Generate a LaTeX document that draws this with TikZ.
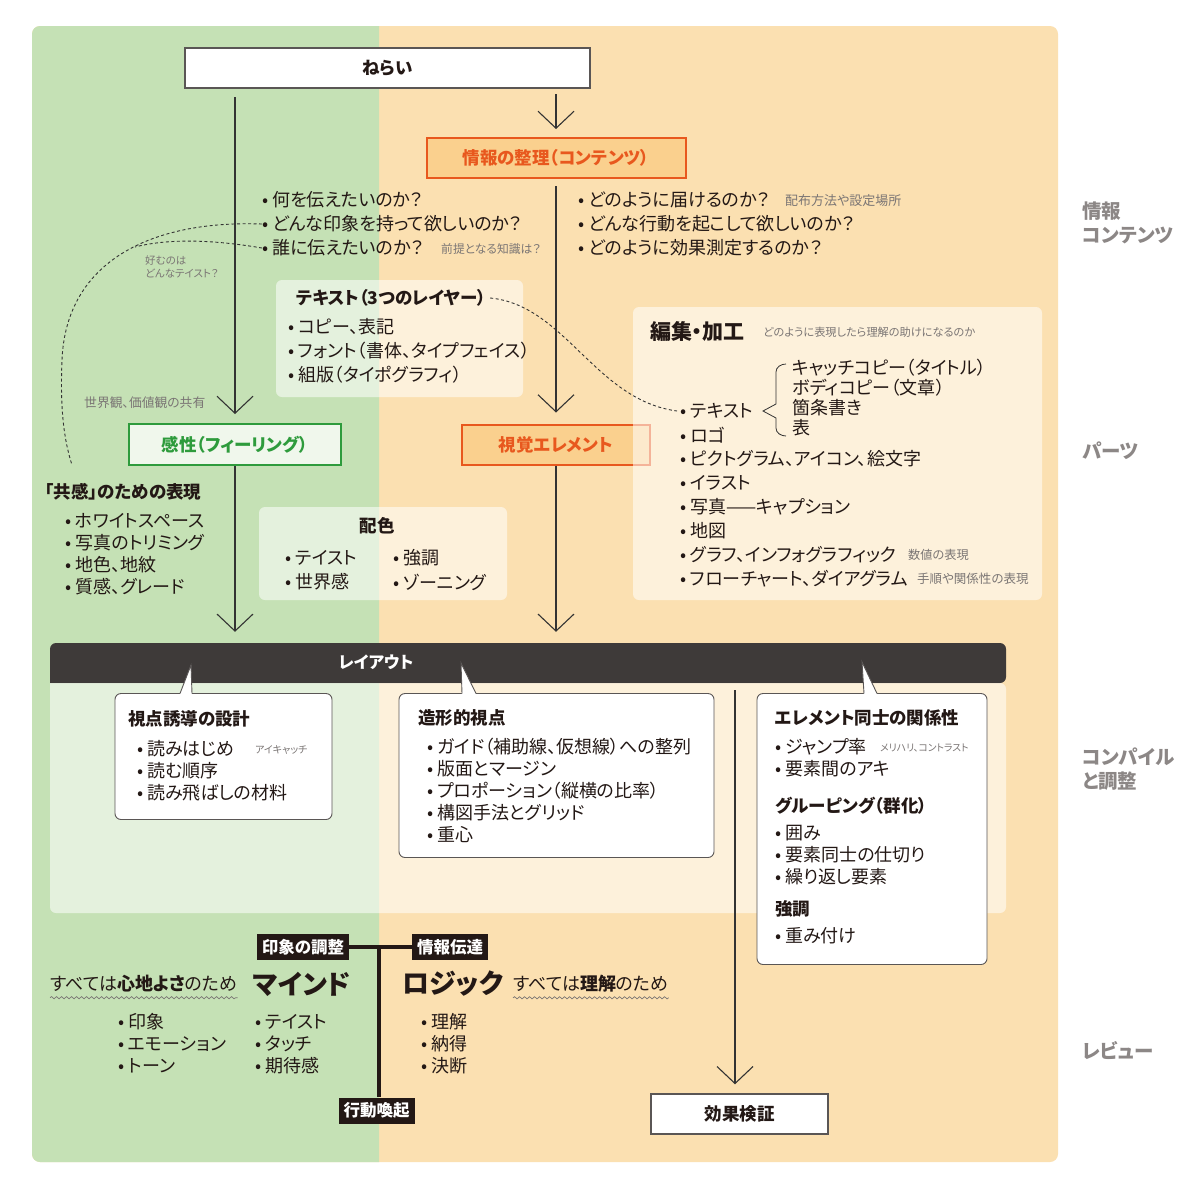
\documentclass[tikz,border=0pt]{standalone}
\usepackage{fontspec}
\setmainfont{Noto Sans CJK JP}[RawFeature=+palt]
\usetikzlibrary{arrows.meta,decorations.pathmorphing}
\definecolor{greenbg}{HTML}{C5E1B5}
\definecolor{peachbg}{HTML}{FBE0B1}
\definecolor{barc}{HTML}{3E3A39}
\definecolor{darkc}{HTML}{231815}
\definecolor{orangec}{HTML}{E8581E}
\definecolor{orangefill}{HTML}{FAD08E}
\definecolor{greenc}{HTML}{2E9B3C}
\definecolor{kanseifill}{HTML}{F0F7EC}
\definecolor{txtc}{HTML}{231815}
\definecolor{notec}{HTML}{7A7574}
\definecolor{sidec}{HTML}{8C8786}
\definecolor{linec}{HTML}{333333}
\definecolor{boxgray}{HTML}{5A5655}
\newcommand{\bulletmark}{•\hspace{4pt}}
\begin{document}
\begin{tikzpicture}[x=1pt,y=-1pt,
  every node/.style={inner sep=0pt},
  item/.style={anchor=west,font=\fontsize{18}{20}\selectfont,text=txtc},
  ttl/.style={anchor=west,font=\bfseries\fontsize{17.5}{19}\selectfont,text=txtc},
  note/.style={anchor=west,font=\fontsize{11.8}{13}\selectfont,text=notec},
  side/.style={anchor=west,align=left,font=\bfseries\fontsize{19.5}{24}\selectfont,text=sidec},
  arr/.style={draw=linec,line width=1.1pt,-{Straight Barb[length=17pt,width=36pt,line width=1.1pt]}},
  panel/.style={fill=white,fill opacity=0.55,rounded corners=6pt},
  callout/.style={draw=boxgray,fill=white,line width=0.9pt,rounded corners=6pt},
  obox/.style={draw=orangec,fill=orangefill,line width=2pt,minimum height=40pt,text=orangec,font=\bfseries\fontsize{17.5}{19}\selectfont},
  wbox/.style={draw=boxgray,fill=white,line width=2pt,minimum height=40pt,text=txtc,font=\bfseries\fontsize{17.5}{19}\selectfont},
  darklab/.style={fill=darkc,text=white,font=\bfseries\fontsize{16.5}{18}\selectfont,inner xsep=5pt,minimum height=26pt},
  dashc/.style={draw=linec,line width=0.9pt,dash pattern=on 3pt off 2.5pt},
  wavy/.style={draw=notec,line width=0.7pt,decorate,decoration={snake,amplitude=1.1pt,segment length=5pt}},
]
\useasboundingbox (0,0) rectangle (1198,1200);
% background
\fill[white] (0,0) rectangle (1198,1200);
\fill[peachbg,rounded corners=8pt] (32,26) rectangle (1058,1162);
\begin{scope}
\clip (0,0) rectangle (379,1200);
\fill[greenbg,rounded corners=8pt] (32,26) rectangle (1058,1162);
\end{scope}

% side labels
\node[side] (s1) at (1082,223) {情報\\コンテンツ};
\node[side] (s2) at (1082,451) {パーツ};
\node[side] (s3) at (1082,769) {コンパイル\\と調整};
\node[side] (s4) at (1082,1051) {レビュー};

% main boxes
\node[wbox,minimum width=405pt] (nerai) at (387.5,68) {ねらい};
\node[obox,minimum width=259pt] (joho) at (556,158) {情報の整理（コンテンツ）};
\node[obox,minimum width=188pt] (shikaku) at (556,444.5) {視覚エレメント};
\node[draw=greenc,fill=kanseifill,line width=2pt,minimum width=212pt,minimum height=41pt,text=greenc,font=\bfseries\fontsize{17.5}{19}\selectfont] (kansei) at (235,444.5) {感性（フィーリング）};
\node[wbox,line width=1.5pt,minimum width=177pt] (kouka) at (739.5,1114) {効果検証};

% questions
\node[item] (qL1) at (262,200) {\bulletmark 何を伝えたいのか？};
\node[item] (qL2) at (262,224) {\bulletmark どんな印象を持って欲しいのか？};
\node[item] (qL3) at (262,248) {\bulletmark 誰に伝えたいのか？};
\node[note] (nL3) at (441,249) {前提となる知識は？};
\node[item] (qR1) at (578,200) {\bulletmark どのように届けるのか？};
\node[note,font=\fontsize{13}{14}\selectfont] (nR1) at (785,201) {配布方法や設定場所};
\node[item] (qR2) at (578,224) {\bulletmark どんな行動を起こして欲しいのか？};
\node[item] (qR3) at (578,248) {\bulletmark どのように効果測定するのか？};

% notes on the left
\node[note,align=left,anchor=north west,font=\fontsize{10.5}{13}\selectfont] (nTaste) at (145,255) {好むのは\\どんなテイスト？};
\node[note,font=\fontsize{12.8}{14}\selectfont] (nWorld) at (84,403) {世界観、価値観の共有};

% text panel
\node[panel,minimum width=247pt,minimum height=117pt] (texbox) at (399.5,338.5) {};
\node[ttl] (texT) at (296,298) {テキスト（3つのレイヤー）};
\node[item] (tx1) at (288,327) {\bulletmark コピー、表記};
\node[item] (tx2) at (288,351) {\bulletmark フォント（書体、タイプフェイス）};
\node[item] (tx3) at (288,375) {\bulletmark 組版（タイポグラフィ）};

% edit panel
\node[panel,minimum width=409pt,minimum height=293pt] (henbox) at (837.5,453.5) {};
\node[anchor=west,text=txtc,font=\bfseries\fontsize{21}{23}\selectfont] (henT) at (650,332) {編集・加工};
\node[note,font=\fontsize{11.2}{12}\selectfont] (henN) at (763,332) {どのように表現したら理解の助けになるのか};
\node[item] (hen1) at (680,411) {\bulletmark テキスト};
\node[item] (hen2) at (680,435) {\bulletmark ロゴ};
\node[item] (hen3) at (680,459) {\bulletmark ピクトグラム、アイコン、絵文字};
\node[item] (hen4) at (680,483) {\bulletmark イラスト};
\node[item] (hen5) at (680,507) {\bulletmark 写真——キャプション};
\node[item] (hen6) at (680,531) {\bulletmark 地図};
\node[item] (hen7) at (680,555) {\bulletmark グラフ、インフォグラフィック};
\node[note,font=\fontsize{12.2}{13}\selectfont] (hen7n) at (908,555) {数値の表現};
\node[item] (hen8) at (680,579) {\bulletmark フローチャート、ダイアグラム};
\node[note,font=\fontsize{12.5}{13}\selectfont] (hen8n) at (917,579) {手順や関係性の表現};
\draw[linec,line width=0.8pt] (786,364) to[out=180,in=90] (776,372) -- (776,404) -- (763,411) -- (776,418) -- (776,428) to[out=-90,in=180] (786,436);
\node[item] (br1) at (792,368) {キャッチコピー（タイトル）};
\node[item] (br2) at (792,388) {ボディコピー（文章）};
\node[item] (br3) at (792,408) {箇条書き};
\node[item] (br4) at (792,428) {表};

% kyokan
\node[ttl] (kyokan) at (45,492) {「共感」のための表現};
\node[item] (ky1) at (65,521) {\bulletmark ホワイトスペース};
\node[item] (ky2) at (65,543) {\bulletmark 写真のトリミング};
\node[item] (ky3) at (65,565) {\bulletmark 地色、地紋};
\node[item] (ky4) at (65,587) {\bulletmark 質感、グレード};

% haishoku panel
\node[panel,minimum width=248pt,minimum height=93pt] (haibox) at (383,553.5) {};
\node[text=txtc,font=\bfseries\fontsize{17.5}{19}\selectfont] (haiT) at (377,526) {配色};
\node[item] (hai1) at (285,558) {\bulletmark テイスト};
\node[item] (hai2) at (285,582) {\bulletmark 世界感};
\node[item] (hai3) at (393,558) {\bulletmark 強調};
\node[item] (hai4) at (393,582) {\bulletmark ゾーニング};

% layout bar and panel
\fill[barc] (50,683) [rounded corners=6pt] -- (50,643) -- (1006,643) -- (1006,683) [sharp corners] -- cycle;
\node[minimum width=956pt,minimum height=40pt] (layout) at (528,663) {};
\node[text=white,font=\bfseries\fontsize{16.5}{18}\selectfont] (layoutT) at (376,662) {レイアウト};
\fill[white,fill opacity=0.55] (50,683) [rounded corners=6pt] -- (50,913) -- (1006,913) -- (1006,683) [sharp corners] -- cycle;

% callouts
\node[callout,minimum width=217pt,minimum height=126pt] (c1) at (223.5,756.5) {};
\fill[white] (180,694) -- (191,665) -- (192,694) -- cycle;
\draw[boxgray,line width=0.9pt] (180,693.5) -- (191,665) -- (192,693.5);
\node[ttl] (c1T) at (128,719) {視点誘導の設計};
\node[item] (c1a) at (137,749) {\bulletmark 読みはじめ};
\node[note,font=\fontsize{10}{11}\selectfont] (c1n) at (255,750) {アイキャッチ};
\node[item] (c1b) at (137,771) {\bulletmark 読む順序};
\node[item] (c1c) at (137,793) {\bulletmark 読み飛ばしの材料};

\node[callout,minimum width=315pt,minimum height=164pt] (c2) at (556.5,775.5) {};
\fill[white] (462,694) -- (461,663) -- (476,694) -- cycle;
\draw[boxgray,line width=0.9pt] (462,693.5) -- (461,663) -- (476,693.5);
\node[ttl] (c2T) at (418,718) {造形的視点};
\node[item] (c2a) at (427,747) {\bulletmark ガイド（補助線、仮想線）への整列};
\node[item] (c2b) at (427,769) {\bulletmark 版面とマージン};
\node[item] (c2c) at (427,791) {\bulletmark プロポーション（縦横の比率）};
\node[item] (c2d) at (427,813) {\bulletmark 構図手法とグリッド};
\node[item] (c2e) at (427,835) {\bulletmark 重心};

\node[callout,minimum width=230pt,minimum height=271pt] (c3) at (872,829) {};
\fill[white] (864,694) -- (862,662) -- (877,694) -- cycle;
\draw[boxgray,line width=0.9pt] (864,693.5) -- (862,662) -- (877,693.5);
\node[ttl] (c3T) at (775,718) {エレメント同士の関係性};
\node[item] (c3a) at (775,747) {\bulletmark ジャンプ率};
\node[note,font=\fontsize{9.8}{11}\selectfont] (c3n) at (880,748) {メリハリ、コントラスト};
\node[item] (c3b) at (775,769) {\bulletmark 要素間のアキ};
\node[ttl] (c3T2) at (775,806) {グルーピング（群化）};
\node[item] (c3c) at (775,833) {\bulletmark 囲み};
\node[item] (c3d) at (775,855) {\bulletmark 要素同士の仕切り};
\node[item] (c3e) at (775,877) {\bulletmark 繰り返し要素};
\node[ttl] (c3T3) at (775,909) {強調};
\node[item] (c3f) at (775,936) {\bulletmark 重み付け};

% arrows
\draw[arr,shorten <=8pt,shorten >=9pt] (nerai.south -| kansei.north) -- (kansei.north);
\draw[arr,shorten <=5pt,shorten >=8pt] (nerai.south -| joho.north) -- (joho.north);
\draw[arr,shorten <=7pt,shorten >=11pt] (joho.south) -- (shikaku.north);
\draw[arr,shorten >=11pt] (kansei.south) -- (kansei.south |- layout.north);
\draw[arr,shorten >=11pt] (shikaku.south) -- (shikaku.south |- layout.north);
\coordinate (kx) at (735,0);
\draw[arr,shorten <=7pt,shorten >=9pt] (layout.south -| kx) -- (kouka.north -| kx);

% dashed curves
\coordinate (dEnd) at (72,465);
\coordinate (dJoin) at (135,247);
\draw[dashc] (qL2.west) .. controls (150,220) and (66,262) .. (62,360) .. controls (60,410) and (64,440) .. (dEnd);
\draw[dashc] (qL3.west) .. controls (215,240) and (170,238) .. (dJoin);
\draw[dashc] ([xshift=4pt]texT.east) .. controls (565,305) and (595,400) .. ([xshift=-3pt]hen1.west);

% bottom review
\node[darklab] (inshou) at (303,947) {印象の調整};
\node[darklab] (joden) at (450,947) {情報伝達};
\node[darklab] (koudou) at (376.5,1110.5) {行動喚起};
\coordinate (tj) at (379,947);
\draw[darkc,line width=4pt] (inshou.east) -- (joden.west);
\draw[darkc,line width=4pt] (tj) -- (tj |- koudou.north);

\node[item] (mindL) at (50,984) {すべては\textbf{心地よさ}のため};
\draw[wavy] ([yshift=-5pt]mindL.south west) -- ([yshift=-5pt]mindL.south east);
\node[anchor=west,text=txtc,font=\bfseries\fontsize{27}{29}\selectfont] (mind) at (253,984) {マインド};
\node[anchor=west,text=txtc,font=\bfseries\fontsize{27}{29}\selectfont] (logic) at (402,984) {ロジック};
\node[item] (logicR) at (513,984) {すべては\textbf{理解}のため};
\draw[wavy] ([yshift=-5pt]logicR.south west) -- ([yshift=-5pt]logicR.south east);

\node[item] (m1) at (118,1022) {\bulletmark 印象};
\node[item] (m2) at (118,1044) {\bulletmark エモーション};
\node[item] (m3) at (118,1066) {\bulletmark トーン};
\node[item] (m4) at (255,1022) {\bulletmark テイスト};
\node[item] (m5) at (255,1044) {\bulletmark タッチ};
\node[item] (m6) at (255,1066) {\bulletmark 期待感};
\node[item] (l1) at (421,1022) {\bulletmark 理解};
\node[item] (l2) at (421,1044) {\bulletmark 納得};
\node[item] (l3) at (421,1066) {\bulletmark 決断};
\end{tikzpicture}
\end{document}
